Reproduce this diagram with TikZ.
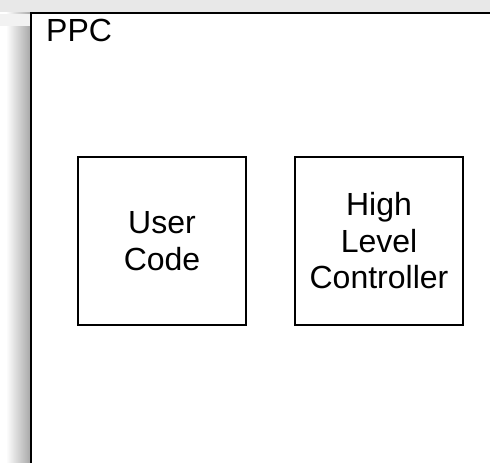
\documentclass[tikz,border=0pt]{standalone}
\usepackage{fontspec}
\setmainfont{Liberation Sans}
\begin{document}
\begin{tikzpicture}[x=1pt,y=1pt,
        block/.style={draw, line width=1.4pt, minimum size=168pt, inner sep=0pt, align=center,
        font=\fontsize{32}{36.5}\selectfont}]
        \useasboundingbox (0,0) rectangle (490,-463);
        \clip (0,0) rectangle (490,-463);
        % backdrop
        \fill[gray!18] (0,0) rectangle (490,-12);
        \shade[left color=white, right color=gray!70] (6,-12) rectangle (31,-463);
        \fill[gray!10] (0,-14) rectangle (31,-26);
        % PPC container
        \draw[line width=2.6pt] (31,-13) rectangle (520,-500);
        \node[anchor=base west, inner sep=0pt, font=\fontsize{32}{36}\selectfont] (ppc) at (46,-41) {PPC};
        \node[block] (user) at (162,-241) {User\\Code};
        \node[block] (hlc) at (379,-241) {High\\Level\\Controller};
    \end{tikzpicture}
\end{document}
